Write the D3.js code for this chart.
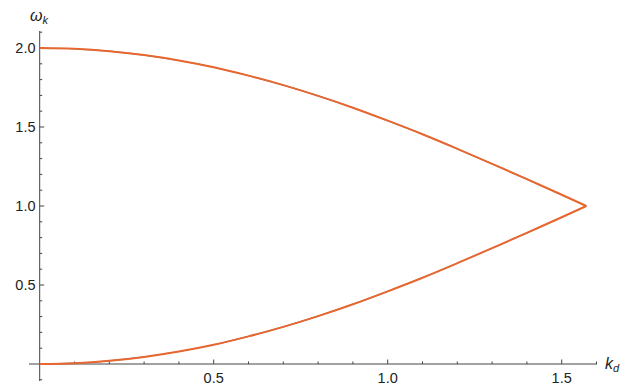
<!DOCTYPE html>
<html><head><meta charset="utf-8">
<script src="https://cdn.jsdelivr.net/npm/d3@7"></script>
<style>body{margin:0;background:#fff}svg{display:block}text{font-family:"Liberation Sans",Arial,sans-serif}</style>
</head><body><svg id="c" width="631" height="385"></svg>
<script>
const kValues = [0,0.1,0.2,0.3,0.4,0.5,0.6,0.7,0.8,0.9,1.0,1.1,1.2,1.3,1.4,1.5,1.5708];
const upperBranch = [2,1.995,1.980,1.955,1.921,1.878,1.825,1.765,1.697,1.622,1.540,1.454,1.362,1.267,1.170,1.071,1.0];
const lowerBranch = [0,0.005,0.020,0.045,0.079,0.122,0.175,0.235,0.303,0.378,0.460,0.546,0.638,0.733,0.830,0.929,1.0];
const xTicks = [0.5,1.0,1.5];
const yTicks = [0.5,1.0,1.5,2.0];
const xMinor = [0.1,0.2,0.3,0.4,0.6,0.7,0.8,0.9,1.1,1.2,1.3,1.4,1.6];
const yMinor = [-0.1,0.1,0.2,0.3,0.4,0.6,0.7,0.8,0.9,1.1,1.2,1.3,1.4,1.6,1.7,1.8,1.9,2.1];

const svg = d3.select("#c");
const x = d3.scaleLinear().domain([0,1.6]).range([39.7,596.5]);
const y = d3.scaleLinear().domain([0,2]).range([364,48]);
const axisColor = "#444";

svg.append("line").attr("x1",29).attr("x2",597).attr("y1",y(0)).attr("y2",y(0)).attr("stroke",axisColor).attr("stroke-width",1);
svg.append("line").attr("x1",x(0)).attr("x2",x(0)).attr("y1",31).attr("y2",381).attr("stroke",axisColor).attr("stroke-width",1);

const g = svg.append("g");
xTicks.forEach(t=>{
  g.append("line").attr("x1",x(t)).attr("x2",x(t)).attr("y1",y(0)).attr("y2",y(0)-4.5).attr("stroke",axisColor);
  g.append("text").attr("x",x(t)).attr("y",383).attr("text-anchor","middle").attr("font-size",14.5).attr("fill","#222").text(d3.format(".1f")(t));
});
xMinor.forEach(t=>{
  g.append("line").attr("x1",x(t)).attr("x2",x(t)).attr("y1",y(0)).attr("y2",y(0)-2.5).attr("stroke",axisColor);
});
yTicks.forEach(t=>{
  g.append("line").attr("x1",x(0)).attr("x2",x(0)+4.5).attr("y1",y(t)).attr("y2",y(t)).attr("stroke",axisColor);
  g.append("text").attr("x",35.5).attr("y",y(t)+5.2).attr("text-anchor","end").attr("font-size",14.5).attr("fill","#222").text(d3.format(".1f")(t));
});
yMinor.forEach(t=>{
  g.append("line").attr("x1",x(0)).attr("x2",x(0)+2.5).attr("y1",y(t)).attr("y2",y(t)).attr("stroke",axisColor);
});

const yl = svg.append("text").attr("x",30).attr("y",21).attr("font-size",16).attr("fill","#222");
yl.append("tspan").attr("font-style","italic").text("ω");
yl.append("tspan").attr("font-style","italic").attr("font-size",11).attr("dy",3).text("k");
const xl = svg.append("text").attr("x",605).attr("y",369).attr("font-size",16).attr("fill","#222");
xl.append("tspan").attr("font-style","italic").text("k");
xl.append("tspan").attr("font-style","italic").attr("font-size",11).attr("dy",3).text("d");

const line = d3.line().x((d,i)=>x(kValues[i])).y(d=>y(d)).curve(d3.curveCatmullRom);
[upperBranch, lowerBranch].forEach(s=>{
  svg.append("path").attr("d",line(s)).attr("fill","none").attr("stroke","#5E81B5").attr("stroke-width",1.2);
  svg.append("path").attr("d",line(s)).attr("fill","none").attr("stroke","#E8672F").attr("stroke-width",2);
});
</script></body></html>
